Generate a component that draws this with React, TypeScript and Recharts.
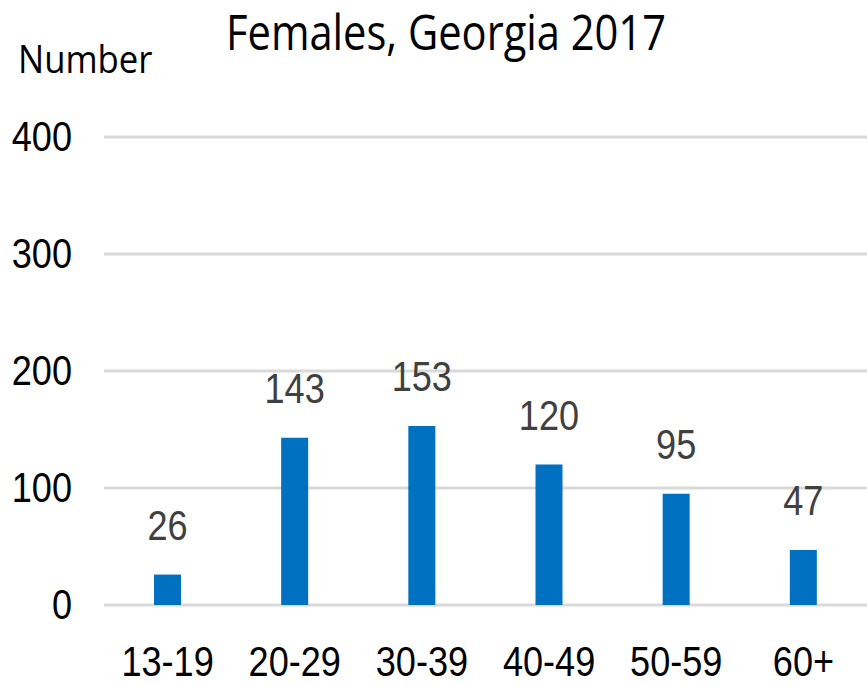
import React from "react";
import { BarChart, Bar, XAxis, YAxis, CartesianGrid, LabelList } from "recharts";

const categories = ["13-19", "20-29", "30-39", "40-49", "50-59", "60+"];
const values = [26, 143, 153, 120, 95, 47];
const yTicks = [0, 100, 200, 300, 400];
const title = "Females, Georgia 2017";
const yLabel = "Number";

const data = categories.map((c, i) => ({ age: c, value: values[i] }));

const NUM_FONT = "'Liberation Sans', Arial, sans-serif";
const TITLE_FONT = "'Open Sans', sans-serif";

const YTick = (props: any) => {
  const { y, payload } = props;
  return (
    <text
      transform={`translate(72, ${y}) scale(0.86, 1)`}
      textAnchor="end"
      dominantBaseline="central"
      fontFamily={NUM_FONT}
      fontSize={42}
      fill="#000"
    >
      {payload.value}
    </text>
  );
};

const XTick = (props: any) => {
  const { x, payload } = props;
  return (
    <text
      transform={`translate(${x}, 676) scale(0.86, 1)`}
      textAnchor="middle"
      fontFamily={NUM_FONT}
      fontSize={42}
      fill="#000"
    >
      {payload.value}
    </text>
  );
};

const ValueLabel = (props: any) => {
  const { x, y, width, value } = props;
  return (
    <text
      transform={`translate(${x + width / 2}, ${y - 35}) scale(0.86, 1)`}
      textAnchor="middle"
      fontFamily={NUM_FONT}
      fontSize={42}
      fill="#404040"
    >
      {value}
    </text>
  );
};

export default function App() {
  return (
    <div style={{ position: "absolute", left: 0, top: 0, width: 867, height: 686, background: "#fff" }}>
      <BarChart
        width={867}
        height={686}
        data={data}
        margin={{ top: 137, right: 0, bottom: 0, left: 0 }}
      >
        <CartesianGrid vertical={false} stroke="#d9d9d9" strokeWidth={3} />
        <XAxis
          dataKey="age"
          height={81}
          axisLine={false}
          tickLine={false}
          tick={<XTick />}
          interval={0}
        />
        <YAxis
          width={104}
          domain={[0, 400]}
          ticks={yTicks}
          axisLine={false}
          tickLine={false}
          tick={<YTick />}
        />
        <Bar dataKey="value" fill="#0070c0" barSize={27} isAnimationActive={false}>
          <LabelList dataKey="value" content={<ValueLabel />} />
        </Bar>
      </BarChart>
      <svg
        width={867}
        height={686}
        style={{ position: "absolute", left: 0, top: 0, pointerEvents: "none" }}
      >
        <text
          transform="translate(446, 50) scale(0.85, 1)"
          textAnchor="middle"
          fontFamily={TITLE_FONT}
          fontSize={49}
          fill="#000"
        >
          {title}
        </text>
        <text
          transform="translate(18, 73) scale(0.89, 1)"
          textAnchor="start"
          fontFamily={TITLE_FONT}
          fontSize={39}
          fill="#000"
        >
          {yLabel}
        </text>
      </svg>
    </div>
  );
}
